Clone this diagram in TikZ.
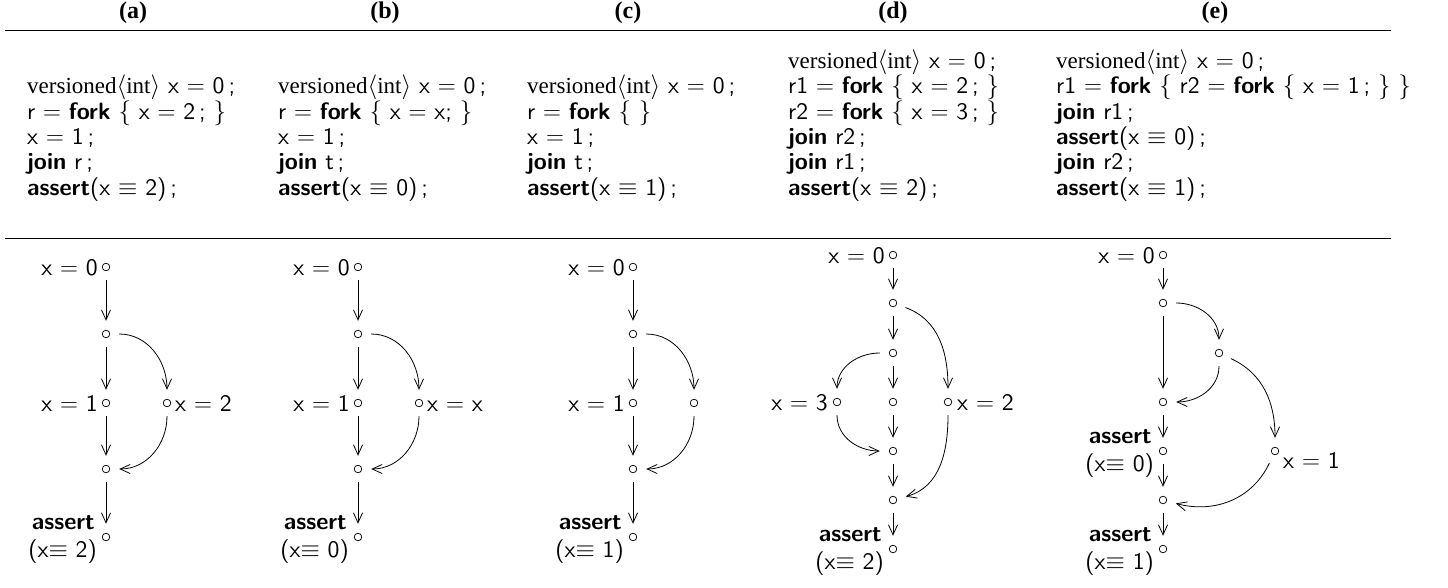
\documentclass[tikz,border=0pt]{standalone}
\usepackage[no-math]{fontspec}
\setmainfont{Liberation Serif}
% 10pt design of Latin Modern Sans at every size
\setsansfont{lmsans10}[Extension=.otf, UprightFont=*-regular, BoldFont=*-bold,
  ItalicFont=*-oblique, BoldItalicFont=*-boldoblique, Scale=1.03]
\usetikzlibrary{arrows.meta,calc}

% one line of program text
\newcommand\codeln[4]{\node[code] (#1) at (#2,#3) {#4};}
% versioned<int> x = 0 ;
\newcommand\decl{{\rmfamily versioned$\langle$int$\rangle$} x $=$ 0\,;}
% a sequential state with an assert label on its left
\newcommand\assertlbl[3]{%
  \node[lbl, anchor=base east] (#1t) at ($(#2.center)+(-11,-8)$) {\bfseries assert};
  \node[lbl, anchor=base east] (#1u) at ($(#2.center)+(-9,20)$) {(x$\equiv$ #3)};}
% single fork / join history: prefix, spine x, right label, asserted value
\newcommand\forkjoin[4]{%
  \node[st] (#10) at (#2,267) {};
  \node[st] (#11) at (#2,334) {};
  \node[st] (#12) at (#2,403) {};
  \node[st] (#13) at ($(#12.center)+(61,0)$) {};
  \node[st] (#14) at (#2,469) {};
  \node[st] (#15) at (#2,537) {};
  \node[lbl, anchor=base east] (#10l) at ($(#10.center)+(-8,8)$) {x $=$ 0};
  \node[lbl, anchor=base east] (#12l) at ($(#12.center)+(-8,8)$) {x $=$ 1};
  \if\relax\detokenize{#3}\relax\else
    \node[lbl, anchor=base west] (#13l) at ($(#13.center)+(8,8)$) {#3};
  \fi
  \assertlbl{#15}{#15}{#4}
  \draw[flow] (#10) -- (#11);
  \draw[flow] (#11) -- (#12);
  \draw[flow] (#12) -- (#14);
  \draw[flow] (#14) -- (#15);
  \draw[flow] (#11) to[out=0,in=90] (#13);
  \draw[flow] (#13) to[out=-90,in=0] (#14);}

\begin{document}
\begin{tikzpicture}[x=1pt,y=-1pt,
  code/.style={anchor=base west, inner sep=0pt, font=\fontsize{23}{27}\selectfont\sffamily},
  head/.style={inner sep=0pt, font=\fontsize{24}{28}\selectfont\bfseries},
  lbl/.style={inner sep=0pt, font=\fontsize{23}{27}\selectfont\sffamily},
  st/.style={circle, minimum size=26pt, inner sep=0pt,
    path picture={\draw[line width=0.7pt] (path picture bounding box.center) circle (3.8pt);}},
  flow/.style={draw, line width=0.8pt, -{Straight Barb[length=10pt,width=9pt]}},
  rule/.style={line width=1pt},
]
\useasboundingbox (0,0) rectangle (1448,588);

% column heads and rules
\node[head] (ha) at (133,13) {(a)};
\node[head] (hb) at (385,13) {(b)};
\node[head] (hc) at (628,13) {(c)};
\node[head] (hd) at (893,13) {(d)};
\node[head] (he) at (1215,13) {(e)};
\coordinate (r1a) at (5,31);   \coordinate (r1b) at (1391,31);
\coordinate (r2a) at (5,238);  \coordinate (r2b) at (1391,238);
\draw[rule] (r1a) -- (r1b);
\draw[rule] (r2a) -- (r2b);

% programs
\codeln{pa1}{27}{94}{\decl}
\codeln{pa2}{27}{119.3}{r $=$ \textbf{fork} $\{$ x $=$ 2\,; $\}$}
\codeln{pa3}{27}{144.6}{x $=$ 1\,;}
\codeln{pa4}{27}{170}{\textbf{join} r\,;}
\codeln{pa5}{27}{195.3}{\textbf{assert}(x $\equiv$ 2)\,;}

\codeln{pb1}{278}{94}{\decl}
\codeln{pb2}{278}{119.3}{r $=$ \textbf{fork} $\{$ x $=$ x; $\}$}
\codeln{pb3}{278}{144.6}{x $=$ 1\,;}
\codeln{pb4}{278}{170}{\textbf{join} t\,;}
\codeln{pb5}{278}{195.3}{\textbf{assert}(x $\equiv$ 0)\,;}

\codeln{pc1}{527}{94}{\decl}
\codeln{pc2}{527}{119.3}{r $=$ \textbf{fork} $\{$ $\}$}
\codeln{pc3}{527}{144.6}{x $=$ 1\,;}
\codeln{pc4}{527}{170}{\textbf{join} t\,;}
\codeln{pc5}{527}{195.3}{\textbf{assert}(x $\equiv$ 1)\,;}

\codeln{pd1}{788}{68.7}{\decl}
\codeln{pd2}{788}{94}{r1 $=$ \textbf{fork} $\{$ x $=$ 2\,; $\}$}
\codeln{pd3}{788}{119.3}{r2 $=$ \textbf{fork} $\{$ x $=$ 3\,; $\}$}
\codeln{pd4}{788}{144.6}{\textbf{join} r2\,;}
\codeln{pd5}{788}{170}{\textbf{join} r1\,;}
\codeln{pd6}{788}{195.3}{\textbf{assert}(x $\equiv$ 2)\,;}

\codeln{pe1}{1056}{68.7}{\decl}
\codeln{pe2}{1056}{94}{r1 $=$ \textbf{fork} $\{$ r2 $=$ \textbf{fork} $\{$ x $=$ 1\,; $\}$ $\}$}
\codeln{pe3}{1056}{119.3}{\textbf{join} r1\,;}
\codeln{pe4}{1056}{144.6}{\textbf{assert}(x $\equiv$ 0)\,;}
\codeln{pe5}{1056}{170}{\textbf{join} r2\,;}
\codeln{pe6}{1056}{195.3}{\textbf{assert}(x $\equiv$ 1)\,;}

% revision diagrams (a)-(c)
\forkjoin{ga}{106}{x $=$ 2}{2}
\forkjoin{gb}{358}{x $=$ x}{0}
\forkjoin{gc}{633}{}{1}

% revision diagram (d)
\node[st] (gd0) at (893,255) {};
\node[st] (gd1) at (893,303) {};
\node[st] (gd2) at (893,353) {};
\node[st] (gd3) at (893,402) {};
\node[st] (gd4) at (893,451) {};
\node[st] (gd5) at (893,500) {};
\node[st] (gd6) at (893,549) {};
\node[st] (gdL) at (837,402) {};
\node[st] (gdR) at (948,402) {};
\node[lbl, anchor=base east] (gd0l) at ($(gd0.center)+(-8,8)$) {x $=$ 0};
\node[lbl, anchor=base east] (gdLl) at ($(gdL.center)+(-9,8)$) {x $=$ 3};
\node[lbl, anchor=base west] (gdRl) at ($(gdR.center)+(9,8)$) {x $=$ 2};
\assertlbl{gd6}{gd6}{2}
\draw[flow] (gd0) -- (gd1);
\draw[flow] (gd1) -- (gd2);
\draw[flow] (gd2) -- (gd3);
\draw[flow] (gd3) -- (gd4);
\draw[flow] (gd4) -- (gd5);
\draw[flow] (gd5) -- (gd6);
\draw[flow] (gd1) to[out=-20,in=90] (gdR);
\draw[flow] (gd2) to[out=180,in=90] (gdL);
\draw[flow] (gdL) to[out=-90,in=180] (gd4);
\draw[flow] (gdR) to[out=-90,in=15] (gd5);

% revision diagram (e)
\node[st] (ge0) at (1163,255) {};
\node[st] (ge1) at (1163,303) {};
\node[st] (gem) at (1219,353) {};
\node[st] (ge2) at (1163,402) {};
\node[st] (ge3) at (1163,451) {};
\node[st] (ge4) at (1163,500) {};
\node[st] (ge5) at (1163,549) {};
\node[st] (gef) at (1275,451) {};
\node[lbl, anchor=base east] (ge0l) at ($(ge0.center)+(-8,8)$) {x $=$ 0};
\node[lbl, anchor=base west] (gefl) at ($(gef.center)+(8,17)$) {x $=$ 1};
\assertlbl{ge3}{ge3}{0}
\assertlbl{ge5}{ge5}{1}
\draw[flow] (ge0) -- (ge1);
\draw[flow] (ge1) -- (ge2);
\draw[flow] (ge2) -- (ge3);
\draw[flow] (ge3) -- (ge4);
\draw[flow] (ge4) -- (ge5);
\draw[flow] (ge1) to[out=0,in=90] (gem);
\draw[flow] (gem) to[out=-90,in=0] (ge2);
\draw[flow] (gem) to[out=-25,in=90] (gef);
\draw[flow] (gef) to[out=-115,in=-15] (ge4);
\end{tikzpicture}
\end{document}
